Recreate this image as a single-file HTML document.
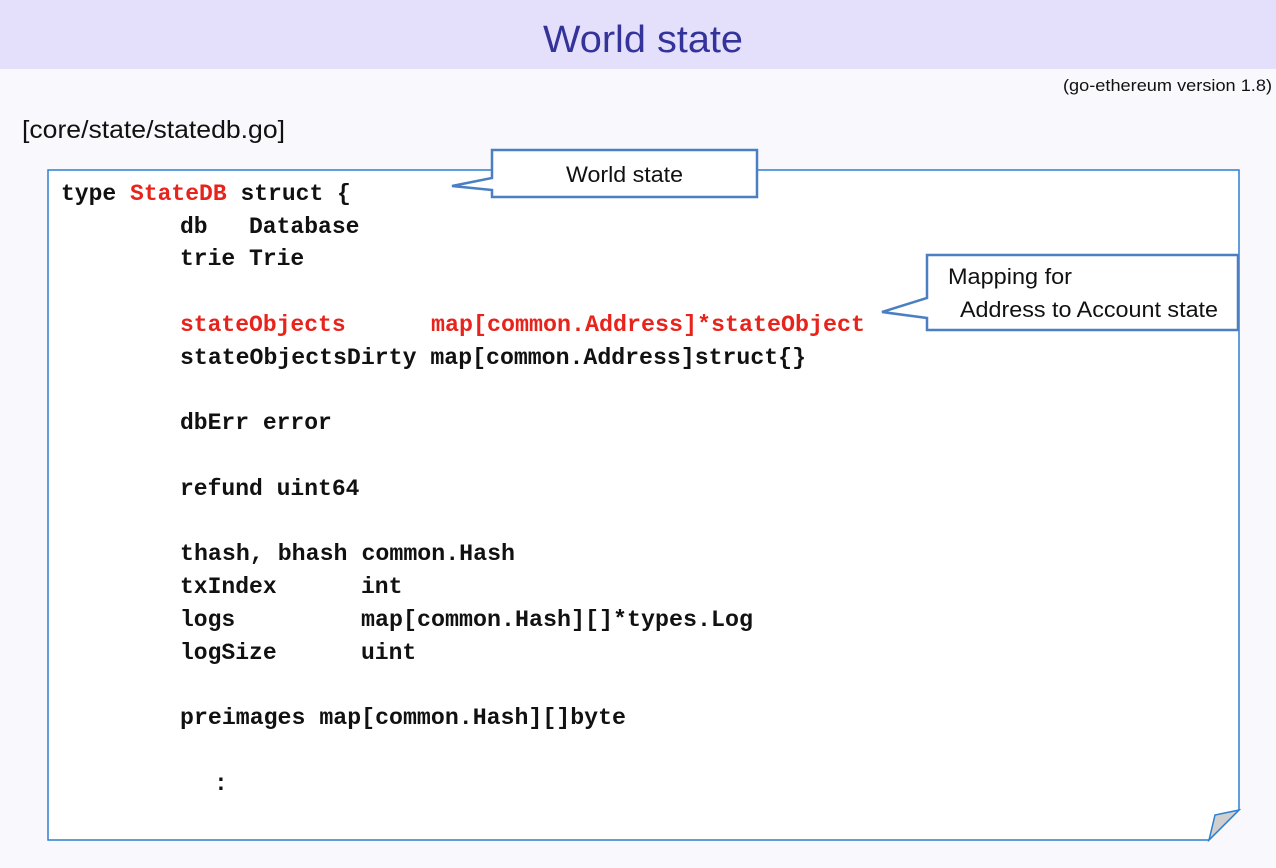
<!DOCTYPE html>
<html><head><meta charset="utf-8"><style>
html,body{margin:0;padding:0;background:#f9f9fd;}
svg{display:block}
.c{font-family:"Liberation Mono",monospace;font-weight:bold;font-size:23px;fill:#111;white-space:pre}
.r{fill:#e8231b}
.s{font-family:"Liberation Sans",sans-serif}
</style></head><body>
<svg width="1276" height="868" xmlns="http://www.w3.org/2000/svg">
<rect x="0" y="0" width="1276" height="868" fill="#f9f9fd"/>
<rect x="0" y="0" width="1276" height="69" fill="#e4e0fc"/>
<text class="s" x="543" y="52" font-size="38" fill="#33339a" textLength="200" lengthAdjust="spacingAndGlyphs">World state</text>
<text class="s" x="1063" y="91" font-size="17" fill="#111" textLength="209" lengthAdjust="spacingAndGlyphs">(go-ethereum version 1.8)</text>
<text class="s" x="22" y="138" font-size="25" fill="#111" textLength="263" lengthAdjust="spacingAndGlyphs">[core/state/statedb.go]</text>
<path d="M48 170 H1239 V810 L1209 840 H48 Z" fill="#fff" stroke="#2f7fd0" stroke-width="1.5"/>
<path d="M1209 840 L1215 815 L1239 810 Z" fill="#cfcfcf" stroke="#2f7fd0" stroke-width="1.5"/>
<path d="M492 150 H757 V197 H492 V190 L452 186 L492 178 Z" fill="#fff" stroke="#4a7fc4" stroke-width="2.5"/>
<text class="s" x="566" y="182" font-size="22" fill="#111" textLength="117" lengthAdjust="spacingAndGlyphs">World state</text>
<path d="M927 255 H1238 V330 H927 V318 L882 312 L927 298 Z" fill="#fff" stroke="#4a7fc4" stroke-width="2.5"/>
<text class="s" x="948" y="284" font-size="22" fill="#111" textLength="124" lengthAdjust="spacingAndGlyphs">Mapping for</text>
<text class="s" x="960" y="317" font-size="22" fill="#111" textLength="258" lengthAdjust="spacingAndGlyphs">Address to Account state</text>
<text class="c" x="61" y="200">type <tspan class="r">StateDB</tspan> struct {</text>
<text class="c" x="180" y="233">db</text><text class="c" x="249" y="233">Database</text>
<text class="c" x="180" y="265">trie Trie</text>
<text class="c r" x="180" y="331">stateObjects</text>
<text class="c r" x="431" y="331" textLength="434" lengthAdjust="spacingAndGlyphs">map[common.Address]*stateObject</text>
<text class="c" x="180" y="364" textLength="626" lengthAdjust="spacingAndGlyphs">stateObjectsDirty map[common.Address]struct{}</text>
<text class="c" x="180" y="429">dbErr error</text>
<text class="c" x="180" y="495">refund uint64</text>
<text class="c" x="180" y="560" textLength="335" lengthAdjust="spacingAndGlyphs">thash, bhash common.Hash</text>
<text class="c" x="180" y="593">txIndex</text><text class="c" x="361" y="593">int</text>
<text class="c" x="180" y="626">logs</text><text class="c" x="361" y="626" textLength="392" lengthAdjust="spacingAndGlyphs">map[common.Hash][]*types.Log</text>
<text class="c" x="180" y="659">logSize</text><text class="c" x="361" y="659">uint</text>
<text class="c" x="180" y="724" textLength="446" lengthAdjust="spacingAndGlyphs">preimages map[common.Hash][]byte</text>
<text class="c" x="214" y="790">:</text>
</svg>
</body></html>
